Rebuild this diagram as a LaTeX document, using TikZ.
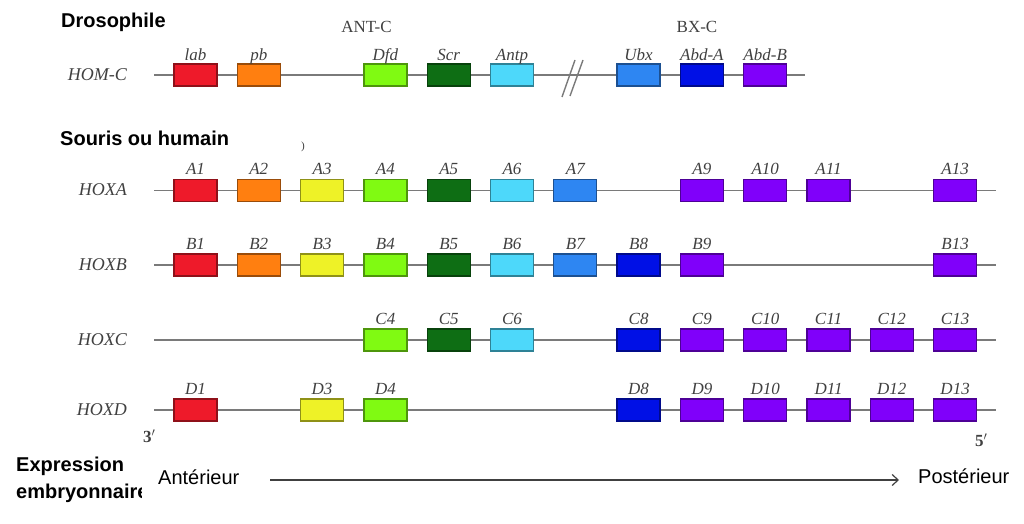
\documentclass[tikz,border=0pt]{standalone}
\usepackage{fontspec}
\setmainfont{Liberation Serif}
\setsansfont{Liberation Sans}
\usetikzlibrary{arrows.meta}
\definecolor{cRed}{HTML}{EE1A2A}
\definecolor{cOrange}{HTML}{FF7F10}
\definecolor{cYellow}{HTML}{EEF227}
\definecolor{cLgreen}{HTML}{80FA12}
\definecolor{cDgreen}{HTML}{0E6E14}
\definecolor{cCyan}{HTML}{4DD8FA}
\definecolor{cBlue}{HTML}{2E86F2}
\definecolor{cDblue}{HTML}{0010E6}
\definecolor{cPurple}{HTML}{8000FA}
\definecolor{lineGray}{HTML}{7A7A7A}
\definecolor{txtGray}{HTML}{404040}
\begin{document}
\begin{tikzpicture}[x=1pt,y=-1pt,
  gene/.style={draw=#1!60!black, fill=#1, line width=1.3pt, minimum width=43pt,
    minimum height=22pt, inner sep=0pt, rectangle},
  genelab/.style={font=\fontsize{17}{17}\selectfont\itshape, text=txtGray, inner sep=0pt, anchor=base},
  rowlab/.style={font=\fontsize{18}{18}\selectfont\itshape, text=txtGray, inner sep=0pt, anchor=base east},
  cluster/.style={font=\fontsize{17}{17}\selectfont, text=txtGray, inner sep=0pt, anchor=base},
  chrom/.style={draw=lineGray, line width=1.6pt},
  heading/.style={font=\sffamily\bfseries\fontsize{20}{20}\selectfont, inner sep=0pt, anchor=base west},
  axislab/.style={font=\sffamily\fontsize{20}{20}\selectfont, inner sep=0pt, anchor=base west},
  endlab/.style={font=\bfseries\fontsize{17}{17}\selectfont, text=txtGray, inner sep=0pt, anchor=base west},
]
\useasboundingbox (0,0) rectangle (1024,524);

% headings
\node[heading] (hDro) at (61,27.5) {Drosophile};
\node[heading] (hSou) at (60,145) {Souris ou humain};
\node[font=\fontsize{11}{11}\selectfont, text=txtGray, inner sep=0pt, anchor=base] (paren) at (303,149) {)};
\node[heading] (hExp) at (16,471.5) {Expression};
\begin{scope}
  \clip (0,480) rectangle (141,510);
  \node[heading] (hEmb) at (16,498) {embryonnaire};
\end{scope}

% cluster labels
\node[cluster] (antc) at (366.5,33) {ANT-C};
\node[cluster] (bxc) at (697,33) {BX-C};

% HOM-C row
\node[rowlab] (lHOM) at (127,81) {HOM-C};
\coordinate (homS) at (154,75);
\coordinate (homE) at (805,75);
\draw[chrom] (homS) -- (homE);
\coordinate (brA1) at (562,97);
\coordinate (brA2) at (575,60);
\coordinate (brB1) at (570,96);
\coordinate (brB2) at (583,60);
\draw[draw=lineGray, line width=1.4pt] (brA1) -- (brA2);
\draw[draw=lineGray, line width=1.4pt] (brB1) -- (brB2);
\foreach \c/\n/\col in {1/lab/cRed,2/pb/cOrange,4/Dfd/cLgreen,5/Scr/cDgreen,6/Antp/cCyan,8/Ubx/cBlue,9/Abd-A/cDblue,10/Abd-B/cPurple}{
  \node[gene=\col] (g-\n) at ({195.5+(\c-1)*63.3},75) {};
  \node[genelab] (t-\n) at ([yshift=3pt]g-\n.north) {\n};
}

% HOX rows
\foreach \r/\y in {A/190.5,B/265,C/340,D/410}{
  \node[rowlab] (lHOX\r) at (127,\y+5) {HOX\r};
  \coordinate (s\r) at (154,\y);
  \coordinate (e\r) at (996,\y);
  \draw[chrom] (s\r) -- (e\r);
}
\foreach \c/\col in {1/cRed,2/cOrange,3/cYellow,4/cLgreen,5/cDgreen,6/cCyan,7/cBlue,9/cPurple,10/cPurple,11/cPurple,13/cPurple}{
  \node[gene=\col] (g-A\c) at ({195.5+(\c-1)*63.3},190.5) {};
  \node[genelab] (t-A\c) at ([yshift=4pt]g-A\c.north) {A\c};
}
\foreach \c/\col in {1/cRed,2/cOrange,3/cYellow,4/cLgreen,5/cDgreen,6/cCyan,7/cBlue,8/cDblue,9/cPurple,13/cPurple}{
  \node[gene=\col] (g-B\c) at ({195.5+(\c-1)*63.3},265) {};
  \node[genelab] (t-B\c) at ([yshift=4pt]g-B\c.north) {B\c};
}
\foreach \c/\col in {4/cLgreen,5/cDgreen,6/cCyan,8/cDblue,9/cPurple,10/cPurple,11/cPurple,12/cPurple,13/cPurple}{
  \node[gene=\col] (g-C\c) at ({195.5+(\c-1)*63.3},340) {};
  \node[genelab] (t-C\c) at ([yshift=4pt]g-C\c.north) {C\c};
}
\foreach \c/\col in {1/cRed,3/cYellow,4/cLgreen,8/cDblue,9/cPurple,10/cPurple,11/cPurple,12/cPurple,13/cPurple}{
  \node[gene=\col] (g-D\c) at ({195.5+(\c-1)*63.3},410) {};
  \node[genelab] (t-D\c) at ([yshift=4pt]g-D\c.north) {D\c};
}

% ends
\node[endlab] (three) at (143,442.5) {3$'$};
\node[endlab] (five) at (975,446.5) {5$'$};

% expression axis
\node[axislab] (ant) at (158,484) {Antérieur};
\node[axislab] (post) at (918,483) {Postérieur};
\coordinate (axS) at (270,480);
\coordinate (axE) at (899,480);
\draw[draw=txtGray, line width=1.2pt, -{Straight Barb[length=6pt,width=11pt]}] (axS) -- (axE);
\end{tikzpicture}
\end{document}
